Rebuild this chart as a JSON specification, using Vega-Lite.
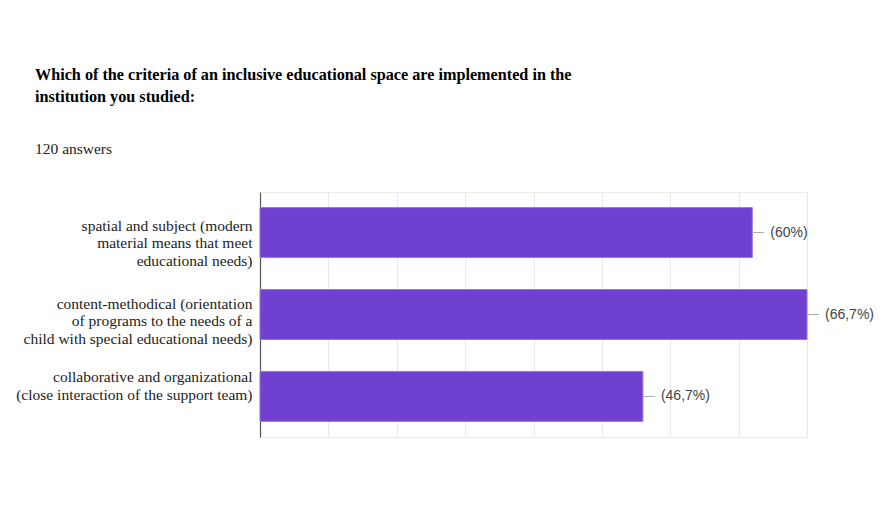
{
  "$schema": "https://vega.github.io/schema/vega-lite/v6.json",
  "width": 547,
  "height": 245,
  "autosize": {"type": "none"},
  "padding": {"left": 260, "top": 192, "right": 87, "bottom": 71},
  "background": "white",
  "title": {
    "text": ["Which of the criteria of an inclusive educational space are implemented in the", "institution you studied:"],
    "subtitle": "120 answers",
    "anchor": "start",
    "frame": "group",
    "dx": -225,
    "offset": 35,
    "font": "Liberation Serif",
    "fontSize": 16.2,
    "fontWeight": "bold",
    "color": "#000000",
    "lineHeight": 22,
    "subtitleFont": "Liberation Serif",
    "subtitleFontSize": 15.5,
    "subtitleColor": "#222222",
    "subtitlePadding": 36
  },
  "data": {
    "values": [
      {"criterion": "spatial and subject (modern|material means that meet|educational needs)", "count": 72, "label": "(60%)"},
      {"criterion": "content-methodical (orientation|of programs to the needs of a|child with special educational needs)", "count": 80, "label": "(66,7%)"},
      {"criterion": "collaborative and organizational|(close interaction of the support team)", "count": 56, "label": "(46,7%)"}
    ]
  },
  "encoding": {
    "y": {
      "field": "criterion",
      "type": "nominal",
      "sort": null,
      "scale": {"paddingInner": 0.39, "paddingOuter": 0.19},
      "axis": {
        "title": null,
        "labelExpr": "split(datum.label, '|')",
        "labelFont": "Liberation Serif",
        "labelFontSize": 15.5,
        "labelLineHeight": 17.5,
        "labelColor": "#222222",
        "labelPadding": 8,
        "labelLimit": 300,
        "labelOffset": {
          "condition": [
            {"test": "indexof(datum.value, 'spatial') === 0", "value": -7},
            {"test": "indexof(datum.value, 'content') === 0", "value": -11}
          ],
          "value": -19
        },
        "ticks": false,
        "domain": true,
        "domainColor": "#555555",
        "domainWidth": 1.2
      }
    }
  },
  "layer": [
    {
      "mark": {"type": "bar", "color": "#7040d0", "stroke": "#9a78e0", "strokeWidth": 1},
      "encoding": {
        "x": {
          "field": "count",
          "type": "quantitative",
          "scale": {"domain": [0, 80], "nice": false},
          "axis": {
            "title": null,
            "labels": false,
            "ticks": false,
            "domain": false,
            "grid": true,
            "values": [0, 10, 20, 30, 40, 50, 60, 70, 80],
            "gridColor": "#e8e8e8"
          }
        }
      }
    },
    {
      "mark": {"type": "rule", "color": "#aaaaaa", "x2Offset": 12},
      "encoding": {
        "x": {"field": "count", "type": "quantitative"},
        "x2": {"field": "count"}
      }
    },
    {
      "mark": {"type": "text", "align": "left", "dx": 18, "font": "Liberation Sans", "fontSize": 14, "color": "#444444"},
      "encoding": {
        "x": {"field": "count", "type": "quantitative"},
        "text": {"field": "label"}
      }
    }
  ],
  "config": {
    "view": {"stroke": "#ececec"}
  }
}
